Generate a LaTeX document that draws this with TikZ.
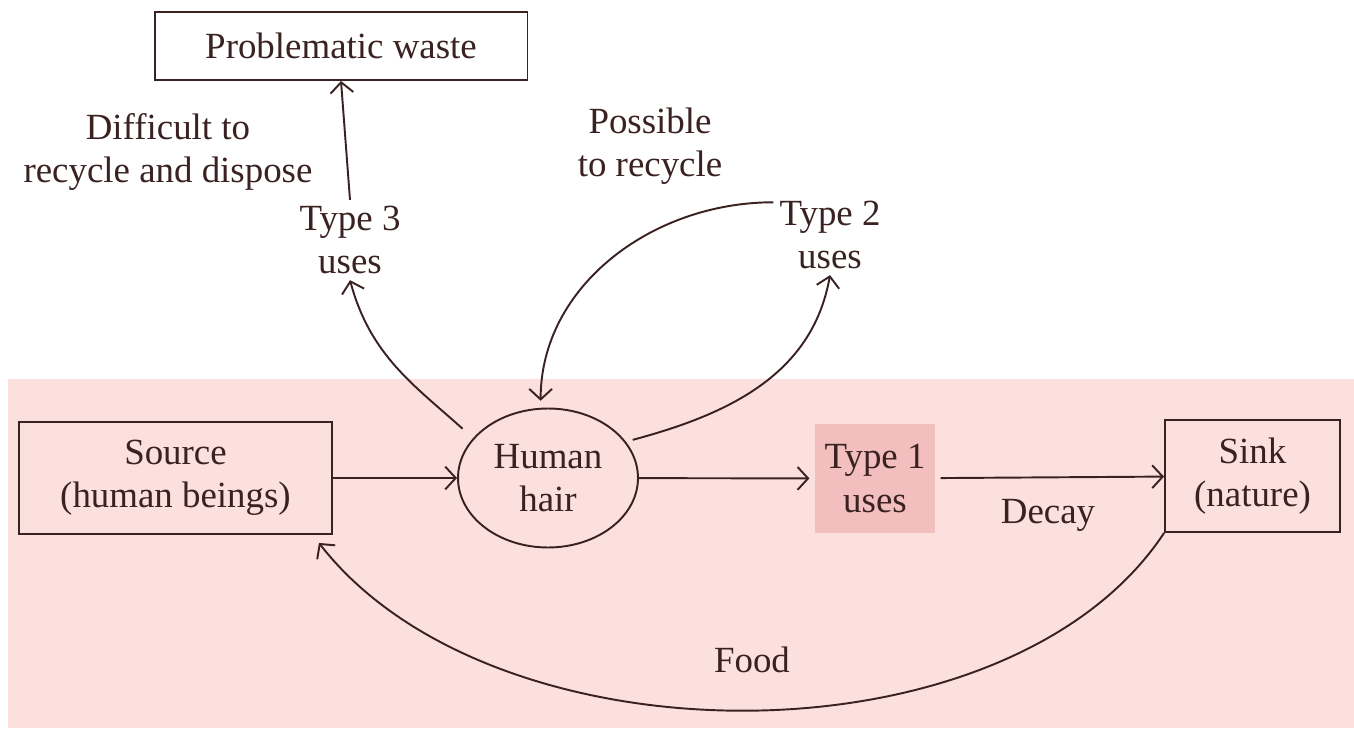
\documentclass[tikz,border=0pt]{standalone}
\usepackage{fontspec}
\setmainfont{Liberation Serif}
\usetikzlibrary{shapes.geometric,arrows.meta}
\definecolor{bgpink}{HTML}{FCE0DE}
\definecolor{usepink}{HTML}{F2BEBE}
\definecolor{ink}{HTML}{3A2222}
\tikzset{every picture/.append style={x=0.02cm,y=-0.02cm}}

\begin{document}
\begin{tikzpicture}[
      font=\fontsize{21}{24.5}\selectfont,
      store/.style = {shape=rectangle, draw=ink, line width=1.1pt, align=center, text=ink},
      pool/.style = {shape=ellipse, draw=ink, line width=1.1pt, align=center, text=ink, inner sep=0pt, minimum width=3.6cm, minimum height=2.78cm},
      usage/.style = {align=center, text=ink},
      note/.style = {align=center, text=ink},
      flow/.style = {draw=ink, line width=1.1pt, -{Straight Barb[length=6pt,width=13pt]}}
    ]
  \useasboundingbox (0,0) rectangle (1354,729);
  \fill[bgpink] (8,379) rectangle (1354,728);

  \node[store, minimum width=7.46cm, minimum height=1.36cm] (waste) at (341,46) {Problematic waste};
  \node[store, minimum width=6.26cm, minimum height=2.24cm] (src) at (175.5,478) {Source\\(human beings)};
  \node[pool] (hair) at (548,478) {Human\\hair};
  \node[usage, fill=usepink, minimum width=2.4cm, minimum height=2.18cm] (type1) at (875,478.5) {Type 1\\uses};
  \node[store, minimum width=3.5cm, minimum height=2.24cm] (sink) at (1252.5,476) {Sink\\(nature)};
  \node[usage] (type3) at (350,240) {Type 3\\uses};
  \node[usage] (type2) at (830,235) {Type 2\\uses};

  \node[note] (hard) at (168,152) {Difficult to\\recycle and dispose};
  \node[note] (easy) at (650,146) {Possible\\to recycle};
  \node[note] (decay) at (1048,515) {Decay};
  \node[note] (food) at (752,660) {Food};

  \draw[flow] (src) -- (hair);
  \draw[flow, shorten >=3pt] (hair) -- (type1);
  \draw[flow, shorten <=3pt] (type1) -- (sink);
  \draw[flow] (type3.north) -- (waste.south);
  \draw[flow, shorten <=8pt] (hair.152) to[out=138, in=-75] (type3.south);
  \draw[flow, shorten <=4pt] (hair.25) to[out=15, in=-100] (type2.south);
  \draw[flow, shorten >=4pt] (type2.150) to[out=180, in=90] (hair.96);
  \draw[flow] (sink.south west) .. controls +(-155,235) and +(175,225) .. ([shift={(-14,8)}]src.south east);
\end{tikzpicture}
\end{document}
